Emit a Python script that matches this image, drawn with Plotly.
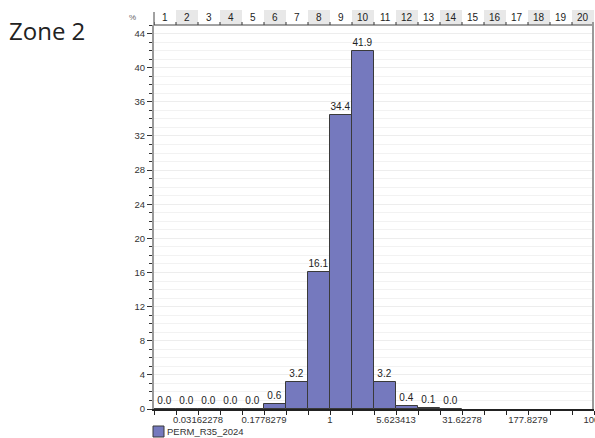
import numpy as np
import plotly.graph_objects as go

# Histogram of PERM_R35_2024 (20 log-spaced bins from 0.01 to 1000)
bin_numbers = list(range(1, 21))
log_lo, log_hi = -2.0, 3.0
bin_width = 0.25
bin_centers = [log_lo + bin_width * (i + 0.5) for i in range(20)]
percent = [0.0, 0.0, 0.0, 0.0, 0.0, 0.6, 3.2, 16.1, 34.4, 41.9,
           3.2, 0.4, 0.1, 0.0, None, None, None, None, None, None]

tick_logs = [-1.5, -0.75, 0.0, 0.75, 1.5, 2.25, 3.0]
tick_text = ["0.03162278", "0.1778279", "1", "5.623413", "31.62278", "177.8279", "1000"]

series_name = "PERM_R35_2024"
zone_title = "Zone 2"

W, H = 595, 438
ML, MR, MT, MB = 154, 1, 25, 29
PH = H - MT - MB

def py(px):
    """pixel row -> paper y"""
    return (H - MB - px) / PH

def pxx(px):
    return (px - ML) / (W - ML - MR)

label_font = dict(family="Liberation Sans, Arial, sans-serif", size=9.5, color="#333333")

fig = go.Figure()
fig.add_trace(go.Bar(
    x=bin_centers,
    y=percent,
    width=bin_width,
    marker=dict(color="#7579BE", line=dict(color="#3a3a3a", width=1)),
    text=[None if v is None else f"{v:.1f}" for v in percent],
    textposition="outside",
    textfont=dict(family="Liberation Sans, Arial, sans-serif", size=10, color="#222222"),
    cliponaxis=False,
    name=series_name,
    showlegend=False,
))

shapes = []
annotations = []

# numbered bin strip above the plot
for i, n in enumerate(bin_numbers):
    x0 = log_lo + bin_width * i
    x1 = x0 + bin_width
    shapes.append(dict(type="rect", xref="x", yref="paper", x0=x0, x1=x1,
                       y0=1, y1=py(10), line=dict(width=0),
                       fillcolor="#e8e8e8" if n % 2 == 0 else "#ffffff", layer="below"))
    shapes.append(dict(type="line", xref="x", yref="paper", x0=x0, x1=x0,
                       y0=1, y1=py(22), line=dict(color="#333333", width=1)))
    annotations.append(dict(xref="x", yref="paper", x=bin_centers[i], y=py(17),
                            text=str(n), showarrow=False,
                            font=dict(family="Liberation Sans, Arial, sans-serif", size=10, color="#222222"),
                            xanchor="center", yanchor="middle"))
# strip baseline / left edge / right frame
shapes.append(dict(type="line", xref="paper", yref="paper", x0=0, x1=1, y0=1, y1=1,
                   line=dict(color="#444444", width=1)))
shapes.append(dict(type="line", xref="paper", yref="paper", x0=0, x1=0, y0=1, y1=py(12),
                   line=dict(color="#444444", width=1)))
shapes.append(dict(type="line", xref="paper", yref="paper", x0=pxx(593), x1=pxx(593), y0=0, y1=py(22),
                   line=dict(color="#9a9a9a", width=2)))

# "%" unit label
annotations.append(dict(xref="paper", yref="paper", x=pxx(132), y=py(17), text="%",
                        showarrow=False, font=dict(family="Liberation Sans, Arial, sans-serif", size=8, color="#666666"),
                        xanchor="center", yanchor="middle"))

# zone title
annotations.append(dict(xref="paper", yref="paper", x=pxx(7), y=py(30), text=zone_title,
                        showarrow=False, font=dict(family="Open Sans, sans-serif", size=24, color="#222222"),
                        xanchor="left", yanchor="middle"))

# legend swatch + label
shapes.append(dict(type="rect", xref="paper", yref="paper", x0=pxx(153), x1=pxx(164),
                   y0=py(437), y1=py(426), fillcolor="#7579BE", line=dict(color="#3a3a3a", width=1)))
annotations.append(dict(xref="paper", yref="paper", x=pxx(165), y=py(431), text=series_name,
                        showarrow=False, font=label_font, xanchor="left", yanchor="middle"))

fig.update_layout(
    width=W, height=H,
    margin=dict(l=ML, r=MR, t=MT, b=MB, pad=0, autoexpand=False),
    plot_bgcolor="white", paper_bgcolor="white",
    bargap=0,
    shapes=shapes,
    annotations=annotations,
    xaxis=dict(
        range=[log_lo, log_hi], showgrid=False, zeroline=False,
        automargin=False,
        tickvals=tick_logs, ticktext=tick_text,
        ticks="outside", ticklen=4, tickcolor="#222222", tickwidth=1,
        ticklabelstandoff=-3, ticklabeloverflow="allow",
        showline=True, linecolor="#222222", linewidth=1.5,
        tickfont=label_font,
        minor=dict(dtick=bin_width, tick0=log_lo, ticks="outside", ticklen=4,
                   tickcolor="#222222", showgrid=False),
    ),
    yaxis=dict(
        range=[0, 45], dtick=4, tick0=0,
        automargin=False,
        showgrid=True, gridcolor="#ededed", gridwidth=1,
        zeroline=False,
        ticks="outside", ticklen=5, tickcolor="#333333", tickwidth=1,
        showline=True, linecolor="#9a9a9a", linewidth=2,
        tickfont=label_font,
        minor=dict(dtick=1, ticks="outside", ticklen=3, tickcolor="#333333",
                   showgrid=True, gridcolor="#f2f2f2"),
    ),
)

fig.write_html("out.html")
